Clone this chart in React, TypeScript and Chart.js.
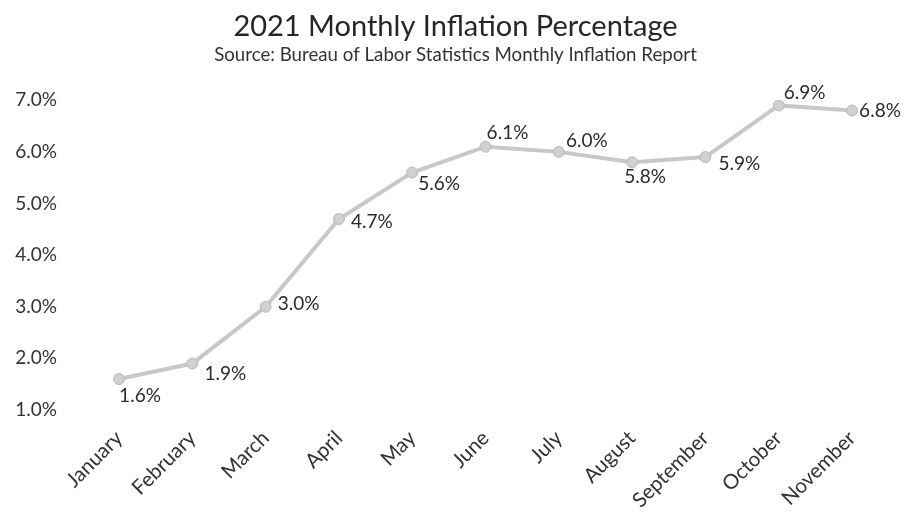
import React, { useEffect, useRef } from "react";
import { Chart, registerables } from "chart.js";

Chart.register(...registerables);

const months = ["January", "February", "March", "April", "May", "June", "July", "August", "September", "October", "November"];
const inflation = [1.6, 1.9, 3.0, 4.7, 5.6, 6.1, 6.0, 5.8, 5.9, 6.9, 6.8];
const yTicks = [1, 2, 3, 4, 5, 6, 7];

const titleText = "2021 Monthly Inflation Percentage";
const subtitleText = "Source: Bureau of Labor Statistics Monthly Inflation Report";

// label placement offsets (style)
const LABEL_OFFSETS: [number, number][] = [
  [21, 17], [33, 10], [33, -3], [33, 3], [27, 11], [22, -14],
  [28, -11], [13, 15], [34, 7], [26, -13], [28, 0],
];

const FONT = "Lato, 'Open Sans', sans-serif";

const labelPlugin = {
  id: "pointLabels",
  afterDatasetsDraw(chart: any) {
    const ctx = chart.ctx;
    const meta = chart.getDatasetMeta(0);
    ctx.save();
    ctx.font = `19px ${FONT}`;
    ctx.fillStyle = "#2b2b2b";
    ctx.textAlign = "center";
    ctx.textBaseline = "middle";
    meta.data.forEach((pt: any, i: number) => {
      const [dx, dy] = LABEL_OFFSETS[i] || [0, -12];
      ctx.fillText(inflation[i].toFixed(1) + "%", pt.x + dx, pt.y + dy);
    });
    ctx.restore();
  },
};

export default function App() {
  const ref = useRef<HTMLCanvasElement>(null);
  useEffect(() => {
    if (!ref.current) return;
    const chart = new Chart(ref.current, {
      type: "line",
      data: {
        labels: months,
        datasets: [
          {
            data: inflation,
            borderColor: "#c8c8c8",
            borderWidth: 4,
            backgroundColor: "#c8c8c8",
            pointBackgroundColor: "#d0d0d0",
            pointBorderColor: "#b8b8b8",
            pointBorderWidth: 1,
            pointRadius: 5.5,
            pointStyle: "circle",
            tension: 0,
          },
        ],
      },
      options: {
        responsive: false,
        animation: false,
        layout: { padding: 0 },
        plugins: {
          legend: { display: false },
          tooltip: { enabled: false },
          title: {
            display: true,
            text: titleText,
            color: "#262626",
            font: { family: FONT, size: 29, weight: "normal" },
            padding: { top: 9, bottom: 0 },
          },
          subtitle: {
            display: true,
            text: subtitleText,
            color: "#333333",
            font: { family: FONT, size: 18.7, weight: "normal" },
            padding: { top: 0, bottom: 34 },
          },
        },
        scales: {
          x: {
            offset: false,
            grid: { display: false, drawTicks: false },
            border: { display: false },
            ticks: {
              color: "#333333",
              font: { family: FONT, size: 20.5 },
              maxRotation: 45,
              minRotation: 45,
              padding: 16,
              autoSkip: false,
            },
            afterFit(scale: any) {
              scale.height = 102;
              scale.paddingRight = 59;
            },
          },
          y: {
            min: yTicks[0],
            max: yTicks[yTicks.length - 1],
            grid: { display: false, drawTicks: false },
            border: { display: false },
            afterBuildTicks(scale: any) {
              scale.ticks = yTicks.map((v) => ({ value: v }));
            },
            ticks: {
              color: "#333333",
              font: { family: FONT, size: 19 },
              padding: 62,
              callback: (v: any) => Number(v).toFixed(1) + "%",
            },
            afterFit(scale: any) {
              scale.width = 119;
            },
          },
        },
      },
      plugins: [labelPlugin],
    });
    return () => chart.destroy();
  }, []);
  return (
    <div style={{ position: "fixed", left: 0, top: 0, width: 911, height: 512, background: "#fff" }}>
      <canvas ref={ref} width={911} height={512} style={{ display: "block" }} />
    </div>
  );
}
